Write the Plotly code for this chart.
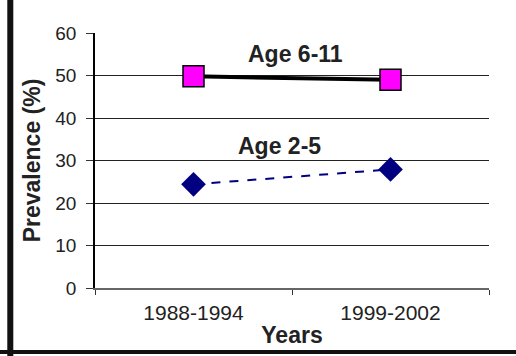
import plotly.graph_objects as go

years = ["1988-1994", "1999-2002"]
age_6_11 = [49.8, 49.0]
age_2_5 = [24.4, 27.9]
y_ticks = [0, 10, 20, 30, 40, 50, 60]

font = "Liberation Sans, Arial, sans-serif"

fig = go.Figure()
fig.add_trace(go.Scatter(
    x=years, y=age_2_5, mode="lines+markers",
    line=dict(color="#000080", width=2, dash="dash"),
    marker=dict(symbol="diamond", size=19, color="#000080"),
    showlegend=False))
fig.add_trace(go.Scatter(
    x=years, y=age_6_11, mode="lines+markers",
    line=dict(color="black", width=4),
    marker=dict(symbol="square", size=21, color="#ff00ff", line=dict(color="black", width=1.5)),
    showlegend=False))

fig.add_annotation(x=0.518, y=55.0, xref="x", yref="y", text="<b>Age 6-11</b>",
                   showarrow=False, font=dict(family=font, size=23, color="#222"))
fig.add_annotation(x=0.434, y=33.4, xref="x", yref="y", text="<b>Age 2-5</b>",
                   showarrow=False, font=dict(family=font, size=23, color="#222"))

# frame lines (left and bottom)
fig.add_shape(type="line", xref="paper", yref="paper", x0=-0.215, x1=-0.215, y0=-0.3, y1=1.2,
              line=dict(color="#111", width=6))
fig.add_shape(type="line", xref="paper", yref="paper", x0=-0.25, x1=1.2, y0=-0.251, y1=-0.251,
              line=dict(color="#111", width=4))

fig.update_layout(
    width=516, height=356,
    margin=dict(l=95, r=27, t=33, b=65),
    paper_bgcolor="white", plot_bgcolor="white",
    font=dict(family=font, size=17, color="#222"),
    xaxis=dict(type="category", range=[-0.5, 1.5], tickson="boundaries",
               ticks="outside", ticklen=5, tickcolor="#333",
               showline=True, linecolor="#666", linewidth=1.5,
               showgrid=False, zeroline=False, ticklabelstandoff=5,
               title=dict(text="<b>Years</b>", font=dict(size=23, family=font), standoff=4),
               tickfont=dict(size=21, family=font)),
    yaxis=dict(range=[0, 60], tickvals=y_ticks, ticks="outside", ticklen=7,
               tickcolor="#333", showline=True, linecolor="black", linewidth=1.5,
               showgrid=True, gridcolor="#222", gridwidth=1.2, zeroline=False,
               ticklabelstandoff=6,
               title=dict(text="<b>Prevalence (%)</b>", font=dict(size=23, family=font), standoff=8),
               tickfont=dict(size=19, family=font)),
)

fig.write_html("out.html", config={"displayModeBar": False},
               post_script="document.body.style.margin='0';")
